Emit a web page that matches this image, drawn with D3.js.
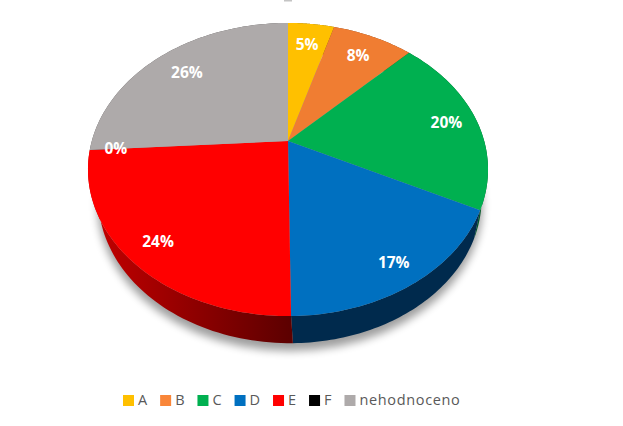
<!DOCTYPE html>
<html><head><meta charset="utf-8">
<script src="https://cdnjs.cloudflare.com/ajax/libs/d3/7.8.5/d3.min.js"></script>
<style>html,body{margin:0;padding:0;background:#fff}svg{display:block}</style></head>
<body><div id="chart"></div>
<script>
const categories = ["A","B","C","D","E","F","nehodnoceno"];
const values = [4.5,7.9,20.0,17.4,24.2,0.0,26.0];
const topColors = ["#ffc000","#f07d32","#00b050","#0070c0","#ff0000","#000000","#aeaaaa"];
const legendColors = ["#ffc000","#f98639","#00b050","#0070c0","#ff0000","#000000","#aeaaaa"];
const wallColors = ["#7f6000","#793f19","#005828","#002a4d","url(#redWall)","#000000","#575555"];
const labelRadius = [0.8,0.8,0.84,0.87,0.855,0.87,0.78];

const W=623,H=426;
const svg=d3.select("#chart").append("svg").attr("width",W).attr("height",H);
const defs=svg.append("defs");
defs.append("filter").attr("id","blur").attr("x","-20%").attr("y","-20%").attr("width","140%").attr("height","140%")
  .append("feGaussianBlur").attr("stdDeviation",4);
const grad=defs.append("linearGradient").attr("id","redWall").attr("gradientUnits","userSpaceOnUse")
  .attr("x1",100).attr("x2",291).attr("y1",0).attr("y2",0);
grad.append("stop").attr("offset",0).attr("stop-color","#c00000");
grad.append("stop").attr("offset",1).attr("stop-color","#5c0000");

// perspective projection of a disc
const p=0.1945;
function project(a,r,o){
  const u=r*Math.sin(a), v=-r*Math.cos(a), d=1-p*v;
  return [o.cx+o.s*u/d, o.cy+o.k*v/d];
}
const topDisc={cx:288,cy:141,s:196.2,k:141};
const botDisc={cx:290,cy:170,s:188,k:139.5};
const shadowDisc={cx:290,cy:176,s:189,k:141};

const pie=d3.pie().sort(null).value(d=>d)(values);
const line=d3.line();
const samples=(a0,a1)=>d3.range(0,61).map(i=>a0+(a1-a0)*i/60);

// remnant of a clipped title at the top edge
svg.append("rect").attr("x",284).attr("y",0).attr("width",8).attr("height",1.5).attr("fill","#c4c4c4");

// shadow
svg.append("path")
  .attr("d",line(samples(0,2*Math.PI).map(a=>project(a,1,shadowDisc)))+"Z")
  .attr("fill","#000").attr("opacity",0.38).attr("filter","url(#blur)");

// walls
svg.append("g").selectAll("path").data(pie).join("path")
  .attr("d",d=>{
    const s=samples(d.startAngle,d.endAngle);
    return line(s.map(a=>project(a,1,topDisc)).concat(s.slice().reverse().map(a=>project(a,1,botDisc))))+"Z";
  })
  .attr("fill",(d,i)=>wallColors[i]);

// top face
svg.append("g").selectAll("path").data(pie).join("path")
  .attr("d",d=>{
    const s=samples(d.startAngle,d.endAngle);
    return line([project(0,0,topDisc)].concat(s.map(a=>project(a,1,topDisc))))+"Z";
  })
  .attr("fill",(d,i)=>topColors[i]);

// data labels
svg.append("g").selectAll("text").data(pie).join("text")
  .attr("transform",(d,i)=>{
    const c=project((d.startAngle+d.endAngle)/2,labelRadius[i],topDisc);
    return `translate(${c[0]},${c[1]})`;
  })
  .attr("text-anchor","middle").attr("dy","0.35em")
  .attr("font-family","'Open Sans',sans-serif").attr("font-weight",700).attr("font-size",15.5)
  .attr("fill","#fff")
  .text(d=>Math.round(d.value)+"%");

// legend
const legend=svg.append("g").attr("font-family","'Open Sans',sans-serif").attr("font-size",14.5)
  .attr("letter-spacing",0.65).attr("fill","#595959");
let lx=123;
categories.forEach((c,i)=>{
  legend.append("rect").attr("x",lx).attr("y",395).attr("width",11).attr("height",11).attr("fill",legendColors[i]);
  const t=legend.append("text").attr("x",lx+15).attr("y",405).text(c);
  lx+=15+t.node().getComputedTextLength()+12.3;
});
</script></body></html>
